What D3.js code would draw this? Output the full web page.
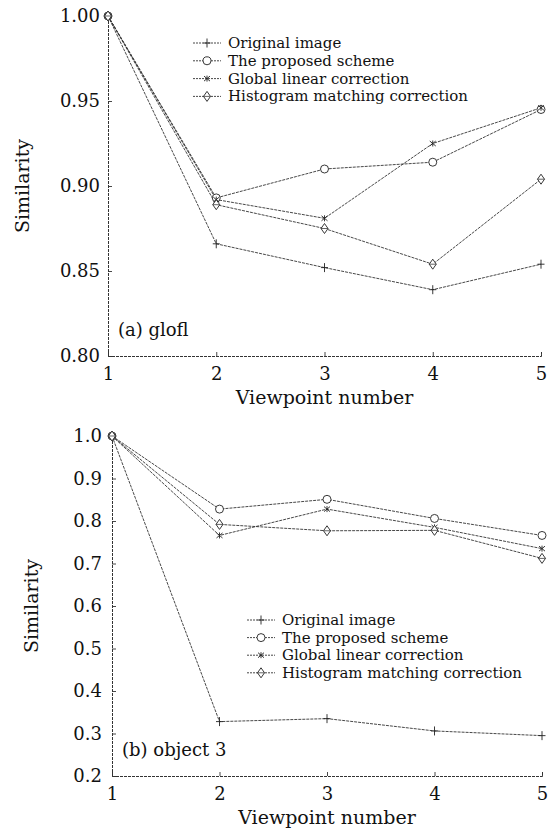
<!DOCTYPE html>
<html><head><meta charset="utf-8">
<script src="https://cdn.jsdelivr.net/npm/d3@7"></script>
<style>
html,body{margin:0;padding:0;background:#fff;}
svg text{font-family:"DejaVu Serif",serif;fill:#111;}
</style></head>
<body>
<svg id="chart" width="558" height="828"></svg>
<script>
// ---- data ----
const viewpoints = [1, 2, 3, 4, 5];
const seriesNames = ["Original image", "The proposed scheme", "Global linear correction", "Histogram matching correction"];
const seriesMarkers = ["plus", "circle", "star", "diamond"];

const gloflOriginal  = [1.00, 0.866, 0.852, 0.839, 0.854];
const gloflProposed  = [1.00, 0.893, 0.910, 0.914, 0.945];
const gloflGlobal    = [1.00, 0.892, 0.881, 0.925, 0.946];
const gloflHistogram = [1.00, 0.889, 0.875, 0.854, 0.904];
const gloflTicks = [0.80, 0.85, 0.90, 0.95, 1.00];

const obj3Original  = [1.0, 0.328, 0.335, 0.306, 0.295];
const obj3Proposed  = [1.0, 0.828, 0.851, 0.806, 0.766];
const obj3Global    = [1.0, 0.766, 0.828, 0.785, 0.735];
const obj3Histogram = [1.0, 0.792, 0.777, 0.778, 0.712];
const obj3Ticks = [0.2, 0.3, 0.4, 0.5, 0.6, 0.7, 0.8, 0.9, 1.0];

const svg = d3.select("#chart");
const ink = "#222";

function marker(g, type, x, y) {
  if (type === "plus") {
    g.append("line").attr("x1", x).attr("x2", x).attr("y1", y - 4.5).attr("y2", y + 4.5)
      .attr("stroke", ink).attr("stroke-width", 0.9);
    g.append("line").attr("x1", x - 3.5).attr("x2", x + 3.5).attr("y1", y).attr("y2", y)
      .attr("stroke", ink).attr("stroke-width", 0.9);
  } else if (type === "circle") {
    g.append("circle").attr("cx", x).attr("cy", y).attr("r", 4)
      .attr("fill", "#fff").attr("stroke", ink).attr("stroke-width", 0.9);
  } else if (type === "star") {
    [[-3, -2.5, 3, 2.5], [-3, 2.5, 3, -2.5], [0, -3, 0, 3]].forEach(s =>
      g.append("line").attr("x1", x + s[0]).attr("y1", y + s[1]).attr("x2", x + s[2]).attr("y2", y + s[3])
        .attr("stroke", ink).attr("stroke-width", 0.9));
  } else if (type === "diamond") {
    g.append("path").attr("d", `M${x},${y - 5}L${x + 3.5},${y}L${x},${y + 5}L${x - 3.5},${y}Z`)
      .attr("fill", "#fff").attr("stroke", ink).attr("stroke-width", 0.9);
    g.append("line").attr("x1", x - 3.5).attr("x2", x + 3.5).attr("y1", y).attr("y2", y)
      .attr("stroke", ink).attr("stroke-width", 0.7);
  }
}

function panel(cfg) {
  const g = svg.append("g");
  const x = d3.scaleLinear().domain([1, 5]).range([cfg.left, cfg.right]);
  const y = d3.scaleLinear().domain([cfg.ticks[0], cfg.ticks[cfg.ticks.length - 1]]).range([cfg.bottom, cfg.top]);

  // axes
  const yAxis = d3.axisLeft(y).tickValues(cfg.ticks).tickFormat(d3.format(cfg.fmt)).tickSize(-4).tickPadding(cfg.ypad);
  const gy = g.append("g").attr("transform", `translate(${cfg.left},0)`).call(yAxis);
  const xAxis = d3.axisBottom(x).tickValues(viewpoints).tickFormat(d3.format("d")).tickSize(-4).tickPadding(11);
  const gx = g.append("g").attr("transform", `translate(0,${cfg.bottom})`).call(xAxis);
  [gx, gy].forEach(a => {
    a.select(".domain").attr("stroke", "#333").attr("stroke-width", 1).attr("stroke-dasharray", "3,1");
    a.selectAll(".tick line").attr("stroke", "#333").attr("stroke-width", 0.9);
    a.selectAll(".tick text").style("font-family", "DejaVu Serif").style("font-size", "18px").attr("fill", "#111");
  });

  // lines
  const line = d3.line().x((d, i) => x(viewpoints[i])).y(d => y(d));
  cfg.series.forEach((s, k) => {
    g.append("path").datum(s).attr("d", line).attr("fill", "none")
      .attr("stroke", "#333").attr("stroke-width", 0.9).attr("stroke-dasharray", "3,1");
  });
  cfg.series.forEach((s, k) => {
    s.forEach((v, i) => marker(g, seriesMarkers[k], x(viewpoints[i]), y(v)));
  });

  // legend
  seriesNames.forEach((name, k) => {
    const ly = cfg.legY + k * cfg.legStep;
    g.append("line").attr("x1", cfg.legX).attr("x2", cfg.legX + 28).attr("y1", ly).attr("y2", ly)
      .attr("stroke", "#333").attr("stroke-width", 0.9).attr("stroke-dasharray", "2,1");
    marker(g, seriesMarkers[k], cfg.legX + 14, ly);
    g.append("text").attr("x", cfg.legX + 35).attr("y", ly + 5).style("font-size", "15px").text(name);
  });

  // labels
  g.append("text").attr("x", (cfg.left + cfg.right) / 2).attr("y", cfg.bottom + 48)
    .attr("text-anchor", "middle").style("font-size", "19px").text("Viewpoint number");
  g.append("text").attr("transform", `translate(${cfg.ylabX},${(cfg.top + cfg.bottom) / 2}) rotate(-90)`)
    .attr("text-anchor", "middle").style("font-size", "19px").text("Similarity");
  g.append("text").attr("x", cfg.left + 10).attr("y", cfg.bottom - 20).style("font-size", "18px").text(cfg.tag);
}

panel({
  left: 108, right: 541, top: 16, bottom: 356,
  ticks: gloflTicks, fmt: ".2f", ypad: 8, ylabX: 29,
  series: [gloflOriginal, gloflProposed, gloflGlobal, gloflHistogram],
  legX: 193, legY: 43, legStep: 17.8, tag: "(a) glofl"
});
panel({
  left: 112, right: 542, top: 436, bottom: 776,
  ticks: obj3Ticks, fmt: ".1f", ypad: 10, ylabX: 38,
  series: [obj3Original, obj3Proposed, obj3Global, obj3Histogram],
  legX: 247, legY: 620, legStep: 17.6, tag: "(b) object 3"
});
</script>
</body></html>
